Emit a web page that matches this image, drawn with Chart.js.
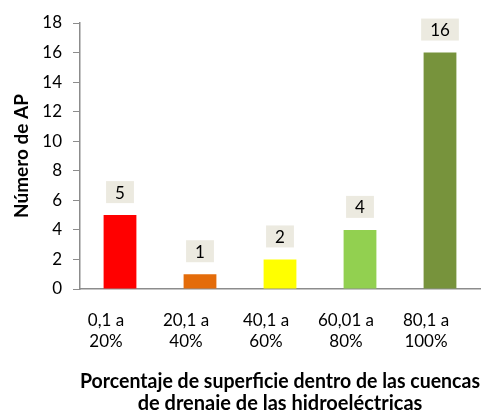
<!DOCTYPE html>
<html><head><meta charset="utf-8">
<script src="https://cdn.jsdelivr.net/npm/chart.js@4/dist/chart.umd.min.js"></script>
<style>html,body{margin:0;padding:0;background:#fff}#wrap{width:500px;height:410px}</style>
</head><body><div id="wrap"><canvas id="c" width="500" height="410"></canvas></div>
<script>
const categories = [["0,1 a","20%"],["20,1 a","40%"],["40,1 a","60%"],["60,01 a","80%"],["80,1 a","100%"]];
const values = [5, 1, 2, 4, 16];
const barColors = ["#FF0000","#E46C0A","#FFFF00","#92D050","#77933C"];
const yTicks = [0,2,4,6,8,10,12,14,16,18];
const FONT = "Lato";

const labelPlugin = {
  id: 'boxLabels',
  afterDatasetsDraw(chart) {
    const ctx = chart.ctx;
    const meta = chart.getDatasetMeta(0);
    ctx.save();
    ctx.font = '17px ' + FONT;
    ctx.textAlign = 'center';
    ctx.textBaseline = 'middle';
    meta.data.forEach((bar, i) => {
      const txt = String(values[i]);
      const w = ctx.measureText(txt).width + 18;
      const h = 22;
      const cx = bar.x;
      const bottom = bar.y - 12;
      ctx.fillStyle = '#ECEAE0';
      ctx.fillRect(cx - w/2, bottom - h, w, h);
      ctx.fillStyle = '#000';
      ctx.fillText(txt, cx, bottom - h/2 + 1);
    });
    ctx.restore();
  }
};

new Chart(document.getElementById('c'), {
  type: 'bar',
  data: { labels: categories, datasets: [{ data: values, backgroundColor: barColors, barPercentage: 0.41, categoryPercentage: 1 }] },
  options: {
    responsive: false, animation: false,
    layout: { padding: { top: 23, right: 20, left: 6, bottom: 0 } },
    plugins: { legend: { display: false }, tooltip: { enabled: false } },
    scales: {
      x: {
        afterFit(axis) { axis.height = 121; },
        grid: { display: false },
        border: { display: true, color: '#8C8C8C', width: 1.5 },
        ticks: { color: '#000', font: { family: FONT, size: 17, lineHeight: 1.25 }, labelOffset: -14, maxRotation: 0, autoSkip: false, padding: 13 },
        title: { display: true, text: ["Porcentaje de superficie dentro de las cuencas","de drenaje de las hidroeléctricas"], color: '#000', font: { family: FONT, size: 20, weight: 'bold', lineHeight: 1.1 }, padding: { top: 0, bottom: -5 } }
      },
      y: {
        min: 0, max: 18,
        afterFit(axis) { axis.width = 74; },
        afterBuildTicks(axis) { axis.ticks = yTicks.map(v => ({ value: v })); },
        grid: { display: true, drawOnChartArea: false, drawTicks: true, tickLength: 7, color: '#8C8C8C' },
        border: { display: true, color: '#8C8C8C', width: 1.5 },
        ticks: { color: '#000', font: { family: FONT, size: 17 }, padding: 11 },
        title: { display: true, text: 'Número de AP', color: '#000', font: { family: FONT, size: 19, weight: 'bold' }, padding: { top: 4, bottom: 0 } }
      }
    }
  },
  plugins: [labelPlugin]
});
</script></body></html>
